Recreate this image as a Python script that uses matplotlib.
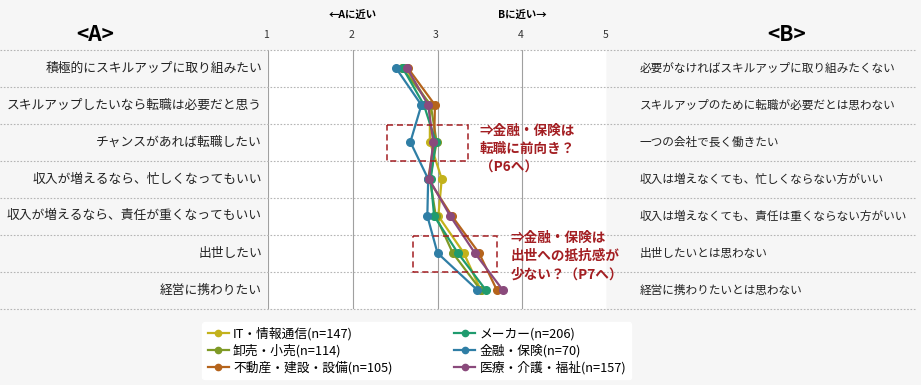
import matplotlib
matplotlib.use("Agg")
import matplotlib.pyplot as plt
from matplotlib.patches import Rectangle
import matplotlib.transforms as mtransforms

plt.rcParams['font.family'] = ['Noto Sans CJK JP', 'DejaVu Sans']

items_a = ['積極的にスキルアップに取り組みたい', 'スキルアップしたいなら転職は必要だと思う',
           'チャンスがあれば転職したい', '収入が増えるなら、忙しくなってもいい',
           '収入が増えるなら、責任が重くなってもいい', '出世したい', '経営に携わりたい']
items_b = ['必要がなければスキルアップに取り組みたくない', 'スキルアップのために転職が必要だとは思わない',
           '一つの会社で長く働きたい', '収入は増えなくても、忙しくならない方がいい',
           '収入は増えなくても、責任は重くならない方がいい', '出世したいとは思わない',
           '経営に携わりたいとは思わない']

series_names = ['IT・情報通信(n=147)', '卸売・小売(n=114)', '不動産・建設・設備(n=105)',
                'メーカー(n=206)', '金融・保険(n=70)', '医療・介護・福祉(n=157)']
it = [2.62, 2.91, 2.91, 3.05, 3.01, 3.31, 3.51]
wholesale = [2.58, 2.92, 2.99, 2.91, 2.98, 3.18, 3.51]
realestate = [2.65, 2.97, 2.96, 2.89, 3.17, 3.49, 3.70]
maker = [2.59, 2.84, 2.98, 2.92, 2.96, 3.24, 3.57]
finance = [2.51, 2.81, 2.68, 2.89, 2.88, 3.00, 3.47]
medical = [2.64, 2.89, 2.95, 2.90, 3.15, 3.44, 3.77]
series = [it, wholesale, realestate, maker, finance, medical]
colors = ['#c3b21c', '#7f9a26', '#b5641c', '#1f9b6e', '#2f7ea5', '#8a4a7c']

ticks = [1, 2, 3, 4, 5]

fig = plt.figure(figsize=(9.21, 3.85), dpi=100, facecolor='#f6f6f6')
ax = fig.add_axes([268/921, 1 - 308.5/385, 339/921, 259/385])
ax.set_facecolor('white')
ax.set_xlim(1, 5)
ax.set_ylim(len(items_a), 0)
for s in ax.spines.values():
    s.set_visible(False)
ax.set_xticks([])
ax.set_yticks([])

for t in ticks:
    ax.axvline(t, color='#a0a0a0', lw=0.8, zorder=1)
    ax.text(t - 0.02, -0.4, str(t), ha='center', va='center', fontsize=7.5, color='#333333')

# row separators across the full width
blend = mtransforms.blended_transform_factory(fig.transFigure, ax.transData)
for i in range(len(items_a) + 1):
    ax.plot([0, 0.995], [i, i], transform=blend, color='#b5b5b5', lw=0.8,
            ls=(0, (1.5, 1.5)), clip_on=False, zorder=1)

ypos = [i + 0.5 for i in range(len(items_a))]
for y, la, lb in zip(ypos, items_a, items_b):
    ax.text(262/921, y, la, transform=blend, ha='right', va='center', fontsize=9.2, color='#222222')
    ax.text(640/921, y, lb, transform=blend, ha='left', va='center', fontsize=8.4, color='#222222')

ax.text(95/921, -0.4, '<A>', transform=blend, ha='center', va='center', fontsize=15, fontweight='bold')
ax.text(787/921, -0.4, '<B>', transform=blend, ha='center', va='center', fontsize=15, fontweight='bold')
ax.text(2.0, -0.95, '←Aに近い', ha='center', va='center', fontsize=7.5, fontweight='bold')
ax.text(4.0, -0.95, 'Bに近い→', ha='center', va='center', fontsize=7.5, fontweight='bold')

handles = []
for name, vals, c in zip(series_names, series, colors):
    h, = ax.plot(vals, ypos, color=c, lw=1.6, marker='o', markersize=5.5, label=name,
                 zorder=3, clip_on=False)
    handles.append(h)

red = '#a31e22'
ax.add_patch(Rectangle((2.41, 2.05), 0.95, 0.95, fill=False, ls=(0, (4, 2.5)), lw=1.1,
                       edgecolor=red, zorder=4))
ax.add_patch(Rectangle((2.71, 5.05), 0.99, 0.95, fill=False, ls=(0, (4, 2.5)), lw=1.1,
                       edgecolor=red, zorder=4))
ax.text(3.5, 2.0, '⇒金融・保険は\n転職に前向き？\n（P6へ）', ha='left', va='top', fontsize=9.8,
        fontweight='bold', color=red, linespacing=1.4, zorder=5)
ax.text(3.86, 4.9, '⇒金融・保険は\n出世への抵抗感が\n少ない？（P7へ）', ha='left', va='top', fontsize=9.8,
        fontweight='bold', color=red, linespacing=1.4, zorder=5)

leg = fig.legend(handles=handles, loc='upper left', bbox_to_anchor=(196/921, 1 - 316/385), ncol=2,
                 frameon=True, facecolor='white', edgecolor='white', framealpha=1,
                 fontsize=9.2, handlelength=1.7, handletextpad=0.3, columnspacing=4.8,
                 labelspacing=0.25, borderpad=0.4)
for h in leg.legend_handles:
    h.set_markersize(4.5)

fig.savefig('out.png', dpi=100, facecolor=fig.get_facecolor())
